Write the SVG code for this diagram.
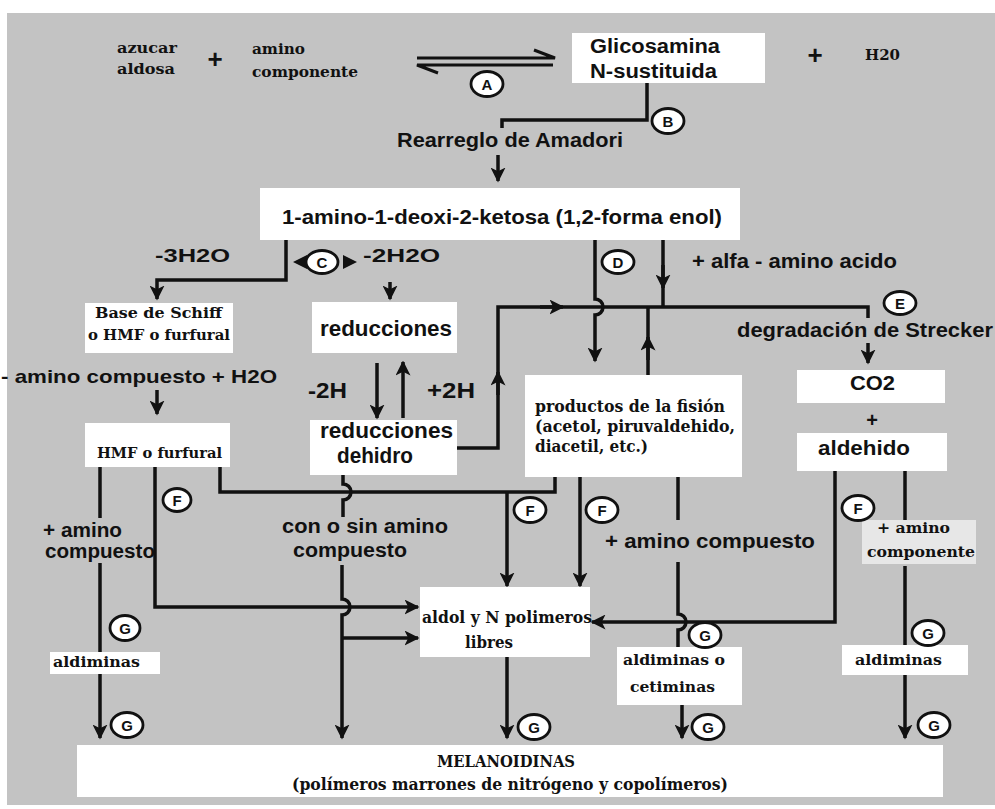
<svg xmlns="http://www.w3.org/2000/svg" width="995" height="809" viewBox="0 0 995 809">
<defs>
<style>
.bg{fill:#c3c3c3}
.box{fill:#ffffff}
.ln{fill:none;stroke:#111;stroke-width:3.5}
.ln2{fill:none;stroke:#111;stroke-width:3}
.hd{fill:#111}
.s{font-family:"Liberation Sans",Arial,sans-serif;font-weight:bold;fill:#111}
.r{font-family:"DejaVu Serif","Liberation Serif",serif;font-weight:bold;fill:#111}
.tag ellipse{fill:#ffffff;stroke:#111;stroke-width:2.8}
.tag text{font-family:"Liberation Sans",Arial,sans-serif;font-weight:bold;font-size:15px;text-anchor:middle;fill:#111}
</style>
<marker id="ah" viewBox="0 0 10 10" refX="9" refY="5" markerWidth="15" markerHeight="15" markerUnits="userSpaceOnUse" orient="auto"><path d="M0,0 L10,5 L0,10 L2.5,5 Z" fill="#111"/></marker>
</defs>
<rect width="995" height="809" fill="#ffffff"/>
<rect class="bg" x="7" y="13" width="988" height="792"/>

<g id="connectors">
<path class="ln2" d="M417,58 H555 L534,50"/>
<path class="ln2" d="M553,65 H417 L438,73"/>
<path class="ln" d="M647,83 V120 H502 V128"/>
<path class="ln" d="M498,155 V181" marker-end="url(#ah)"/>
<path class="ln" d="M286,240 V280 H157 V299" marker-end="url(#ah)"/>
<path class="hd" d="M293,262 L307,255 L307,269 Z"/>
<path class="hd" d="M357,262 L343,255 L343,269 Z"/>
<path class="ln" d="M390,282 V299" marker-end="url(#ah)"/>
<path class="ln" d="M157,390 V414" marker-end="url(#ah)"/>
<path class="ln" d="M377,363 V418" marker-end="url(#ah)"/>
<path class="ln" d="M403,418 V362" marker-end="url(#ah)"/>
<path class="ln" d="M457,448 H498 V307 H868 V318"/>
<path class="ln" d="M498,395 V372" marker-end="url(#ah)"/>
<path class="ln" d="M540,307 H563" marker-end="url(#ah)"/>
<path class="ln" d="M595,240 V299 a8,8 0 0 1 0,16 V361" marker-end="url(#ah)"/>
<path class="ln" d="M663,240 V307"/>
<path class="ln" d="M663,265 V288" marker-end="url(#ah)"/>
<path class="ln" d="M648,375 V307"/>
<path class="ln" d="M648,360 V337" marker-end="url(#ah)"/>
<path class="ln" d="M868,343 V363" marker-end="url(#ah)"/>
<path class="ln" d="M155,467 V607 H418" marker-end="url(#ah)"/>
<path class="ln" d="M100,467 V518"/>
<path class="ln" d="M100,563 V652"/>
<path class="ln" d="M100,674 V738" marker-end="url(#ah)"/>
<path class="ln" d="M220,467 V492 H555 V477"/>
<path class="ln" d="M507,492 V586" marker-end="url(#ah)"/>
<path class="ln" d="M343,475 V484 a8,8 0 0 1 0,16 V517"/>
<path class="ln" d="M342,565 V599 a8,8 0 0 1 0,16 V738" marker-end="url(#ah)"/>
<path class="ln" d="M342,638 H418" marker-end="url(#ah)"/>
<path class="ln" d="M580,477 V586" marker-end="url(#ah)"/>
<path class="ln" d="M678,477 V520"/>
<path class="ln" d="M678,562 V614 a8,8 0 0 1 0,16 V647"/>
<path class="ln" d="M835,471 V622 H592" marker-end="url(#ah)"/>
<path class="ln" d="M905,471 V520"/>
<path class="ln" d="M905,566 V645"/>
<path class="ln" d="M905,675 V738" marker-end="url(#ah)"/>
<path class="ln" d="M507,657 V738" marker-end="url(#ah)"/>
<path class="ln" d="M682,705 V738" marker-end="url(#ah)"/>
</g>

<g id="reactants">
<text class="r" x="117" y="53" font-size="15" textLength="60" lengthAdjust="spacingAndGlyphs">azucar</text>
<text class="r" x="117" y="74" font-size="15" textLength="58" lengthAdjust="spacingAndGlyphs">aldosa</text>
<text class="s" x="215" y="68" font-size="26" text-anchor="middle">+</text>
<text class="r" x="252" y="54" font-size="15" textLength="53" lengthAdjust="spacingAndGlyphs">amino</text>
<text class="r" x="252" y="77" font-size="15" textLength="106" lengthAdjust="spacingAndGlyphs">componente</text>
</g>

<g id="glicosamina">
<rect class="box" x="572" y="33" width="193" height="50"/>
<text class="s" x="590" y="53" font-size="20" textLength="130" lengthAdjust="spacingAndGlyphs">Glicosamina</text>
<text class="s" x="590" y="78" font-size="20" textLength="127" lengthAdjust="spacingAndGlyphs">N-sustituida</text>
</g>

<g id="h2o-top">
<text class="s" x="815" y="64" font-size="26" text-anchor="middle">+</text>
<text class="r" x="865" y="60" font-size="14" textLength="35" lengthAdjust="spacingAndGlyphs">H20</text>
</g>

<g id="amadori">
<text class="s" x="397" y="147" font-size="20" textLength="226" lengthAdjust="spacingAndGlyphs">Rearreglo de Amadori</text>
</g>

<g id="ketosa">
<rect class="box" x="260" y="188" width="480" height="52"/>
<text class="s" x="282" y="224" font-size="21" textLength="440" lengthAdjust="spacingAndGlyphs">1-amino-1-deoxi-2-ketosa (1,2-forma enol)</text>
</g>

<g id="lbl-3h2o"><text class="s" x="155" y="262" font-size="18" textLength="75" lengthAdjust="spacingAndGlyphs">-3H2O</text></g>
<g id="lbl-2h2o"><text class="s" x="363" y="262" font-size="18" textLength="77" lengthAdjust="spacingAndGlyphs">-2H2O</text></g>

<g id="schiff">
<rect class="box" x="85" y="303" width="148" height="50"/>
<text class="r" x="95" y="318" font-size="15" textLength="127" lengthAdjust="spacingAndGlyphs">Base de Schiff</text>
<text class="r" x="88" y="340" font-size="15" textLength="142" lengthAdjust="spacingAndGlyphs">o HMF o furfural</text>
</g>

<g id="reducciones">
<rect class="box" x="312" y="302" width="145" height="51"/>
<text class="s" x="320" y="336" font-size="22" textLength="132" lengthAdjust="spacingAndGlyphs">reducciones</text>
</g>

<g id="lbl-amino-h2o"><text class="s" x="1" y="383" font-size="19" textLength="276" lengthAdjust="spacingAndGlyphs">- amino compuesto + H2O</text></g>
<g id="lbl-2h"><text class="s" x="308" y="398" font-size="22" textLength="39" lengthAdjust="spacingAndGlyphs">-2H</text></g>
<g id="lbl-p2h"><text class="s" x="427" y="398" font-size="22" textLength="48" lengthAdjust="spacingAndGlyphs">+2H</text></g>

<g id="hmf">
<rect class="box" x="85" y="423" width="145" height="44"/>
<text class="r" x="97" y="458" font-size="15" textLength="125" lengthAdjust="spacingAndGlyphs">HMF o furfural</text>
</g>

<g id="dehidro">
<rect class="box" x="310" y="420" width="147" height="55"/>
<text class="s" x="320" y="438" font-size="22" textLength="133" lengthAdjust="spacingAndGlyphs">reducciones</text>
<text class="s" x="337" y="463" font-size="22" textLength="76" lengthAdjust="spacingAndGlyphs">dehidro</text>
</g>

<g id="lbl-alfa"><text class="s" x="692" y="268" font-size="20" textLength="205" lengthAdjust="spacingAndGlyphs">+ alfa - amino acido</text></g>
<g id="strecker"><text class="s" x="737" y="337" font-size="21" textLength="256" lengthAdjust="spacingAndGlyphs">degradación de Strecker</text></g>

<g id="co2">
<rect class="box" x="797" y="370" width="148" height="33"/>
<text class="s" x="850" y="390" font-size="21" textLength="45" lengthAdjust="spacingAndGlyphs">CO2</text>
<text class="s" x="872" y="427" font-size="20" text-anchor="middle">+</text>
</g>

<g id="aldehido">
<rect class="box" x="797" y="433" width="150" height="38"/>
<text class="s" x="818" y="455" font-size="21" textLength="92" lengthAdjust="spacingAndGlyphs">aldehido</text>
</g>

<g id="productos">
<rect class="box" x="525" y="375" width="217" height="102"/>
<text class="r" x="535" y="412" font-size="16" textLength="190" lengthAdjust="spacingAndGlyphs">productos de la fisión</text>
<text class="r" x="535" y="432" font-size="16" textLength="200" lengthAdjust="spacingAndGlyphs">(acetol, piruvaldehido,</text>
<text class="r" x="535" y="452" font-size="16" textLength="113" lengthAdjust="spacingAndGlyphs">diacetil, etc.)</text>
</g>

<g id="lbl-amino-left">
<text class="s" x="43" y="537" font-size="20" textLength="79" lengthAdjust="spacingAndGlyphs">+ amino</text>
<text class="s" x="45" y="558" font-size="20" textLength="110" lengthAdjust="spacingAndGlyphs">compuesto</text>
</g>

<g id="lbl-con-sin">
<text class="s" x="282" y="533" font-size="20" textLength="166" lengthAdjust="spacingAndGlyphs">con o sin amino</text>
<text class="s" x="293" y="557" font-size="20" textLength="114" lengthAdjust="spacingAndGlyphs">compuesto</text>
</g>

<g id="lbl-amino-mid"><text class="s" x="605" y="548" font-size="21" textLength="210" lengthAdjust="spacingAndGlyphs">+ amino compuesto</text></g>

<g id="lbl-amino-right">
<rect class="box" x="862" y="520" width="114" height="44" opacity="0.6"/>
<text class="r" x="877" y="533" font-size="14" textLength="73" lengthAdjust="spacingAndGlyphs">+ amino</text>
<text class="r" x="867" y="557" font-size="14" textLength="108" lengthAdjust="spacingAndGlyphs">componente</text>
</g>

<g id="aldol">
<rect class="box" x="420" y="587" width="170" height="70"/>
<text class="r" x="422" y="623" font-size="16" textLength="170" lengthAdjust="spacingAndGlyphs">aldol y N polimeros</text>
<text class="r" x="465" y="648" font-size="16" textLength="48" lengthAdjust="spacingAndGlyphs">libres</text>
</g>

<g id="aldiminas-left">
<rect class="box" x="50" y="652" width="110" height="22"/>
<text class="r" x="53" y="667" font-size="15" textLength="87" lengthAdjust="spacingAndGlyphs">aldiminas</text>
</g>

<g id="cetiminas">
<rect class="box" x="617" y="647" width="125" height="58"/>
<text class="r" x="623" y="665" font-size="15" textLength="102" lengthAdjust="spacingAndGlyphs">aldiminas o</text>
<text class="r" x="630" y="692" font-size="15" textLength="85" lengthAdjust="spacingAndGlyphs">cetiminas</text>
</g>

<g id="aldiminas-right">
<rect class="box" x="842" y="645" width="126" height="30"/>
<text class="r" x="855" y="665" font-size="15" textLength="87" lengthAdjust="spacingAndGlyphs">aldiminas</text>
</g>

<g id="melanoidinas">
<rect class="box" x="77" y="745" width="866" height="52"/>
<text class="r" x="437" y="767" font-size="17" textLength="138" lengthAdjust="spacingAndGlyphs">MELANOIDINAS</text>
<text class="r" x="292" y="790" font-size="16" textLength="436" lengthAdjust="spacingAndGlyphs">(polímeros marrones de nitrógeno y copolímeros)</text>
</g>

<g id="tags">
<g class="tag" id="tag-A"><ellipse cx="487" cy="84" rx="16" ry="12.5"/><text x="487" y="89.5">A</text></g>
<g class="tag" id="tag-B"><ellipse cx="668" cy="121" rx="16" ry="12.5"/><text x="668" y="126.5">B</text></g>
<g class="tag" id="tag-C"><ellipse cx="322" cy="262" rx="16" ry="11.5"/><text x="322" y="267.5">C</text></g>
<g class="tag" id="tag-D"><ellipse cx="618" cy="262" rx="16" ry="11.5"/><text x="618" y="267.5">D</text></g>
<g class="tag" id="tag-E"><ellipse cx="900" cy="303" rx="16" ry="11.5"/><text x="900" y="308.5">E</text></g>
<g class="tag" id="tag-F1"><ellipse cx="177" cy="500" rx="14" ry="11.5"/><text x="177" y="505.5">F</text></g>
<g class="tag" id="tag-F2"><ellipse cx="530" cy="510" rx="16" ry="12.5"/><text x="530" y="515.5">F</text></g>
<g class="tag" id="tag-F3"><ellipse cx="602" cy="510" rx="16" ry="12.5"/><text x="602" y="515.5">F</text></g>
<g class="tag" id="tag-F4"><ellipse cx="858" cy="508" rx="16" ry="12.5"/><text x="858" y="513.5">F</text></g>
<g class="tag" id="tag-G1"><ellipse cx="125" cy="628" rx="15" ry="12.5"/><text x="125" y="633.5">G</text></g>
<g class="tag" id="tag-G2"><ellipse cx="127" cy="725" rx="16" ry="12.5"/><text x="127" y="730.5">G</text></g>
<g class="tag" id="tag-G3"><ellipse cx="534" cy="727" rx="16" ry="12.5"/><text x="534" y="732.5">G</text></g>
<g class="tag" id="tag-G4"><ellipse cx="705" cy="635" rx="16" ry="12.5"/><text x="705" y="640.5">G</text></g>
<g class="tag" id="tag-G5"><ellipse cx="708" cy="727" rx="16" ry="12.5"/><text x="708" y="732.5">G</text></g>
<g class="tag" id="tag-G6"><ellipse cx="928" cy="633" rx="16" ry="12.5"/><text x="928" y="638.5">G</text></g>
<g class="tag" id="tag-G7"><ellipse cx="934" cy="725" rx="16" ry="12.5"/><text x="934" y="730.5">G</text></g>
</g>
</svg>
